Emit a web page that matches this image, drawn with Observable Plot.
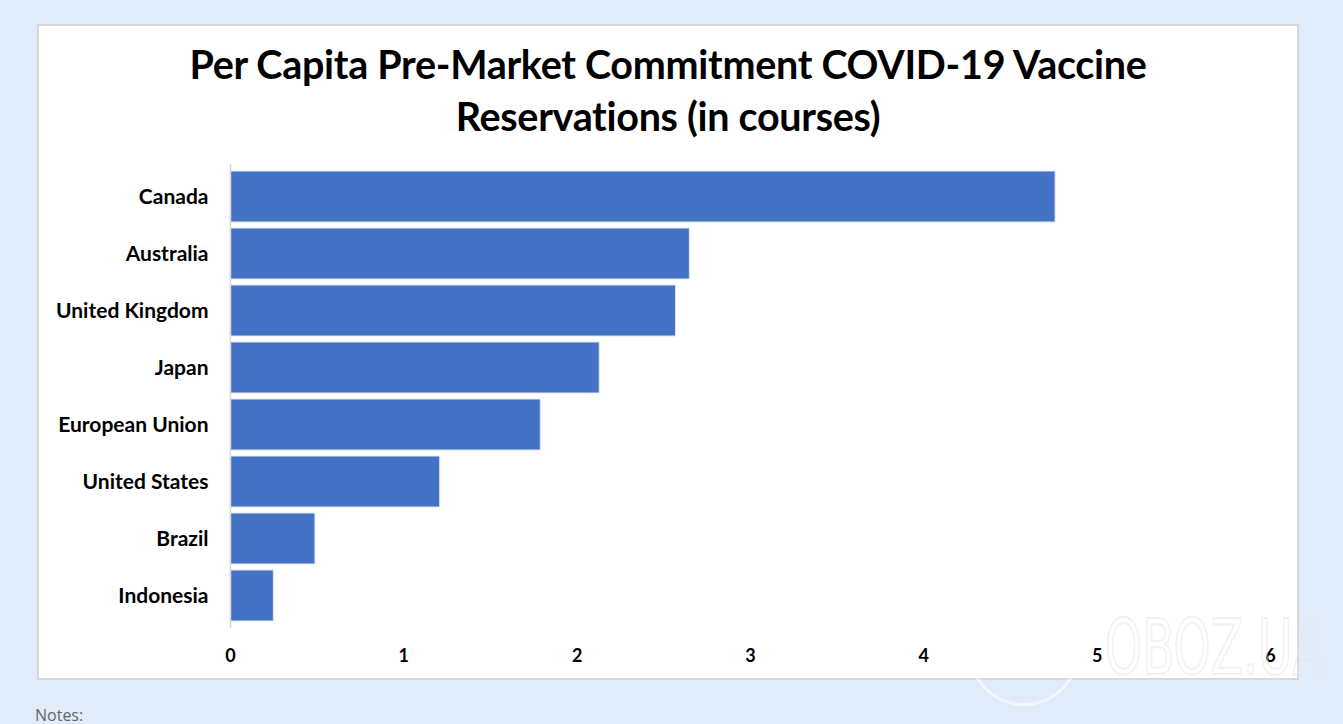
<!DOCTYPE html>
<html>
<head>
<meta charset="utf-8">
<script src="https://cdn.jsdelivr.net/npm/d3@7"></script>
<script src="https://cdn.jsdelivr.net/npm/@observablehq/plot@0.6"></script>
<style>
  html, body { margin: 0; padding: 0; }
  body { width: 1343px; height: 724px; background: #e1ecfa; position: relative; overflow: hidden; font-family: Lato, "Open Sans", sans-serif; }
  #panel { position: absolute; left: 37px; top: 24px; width: 1258px; height: 652px; background: #fff; border: 2px solid #d8d8d8; }
  #title { height: 116px; text-align: center; font-weight: 700; font-size: 39.5px; line-height: 52px; color: #000; padding-top: 12px; box-sizing: border-box; letter-spacing: -0.3px; }
  #chart svg { display: block; }
  #notes { position: absolute; left: 35px; top: 704px; font-family: "Open Sans", sans-serif; font-size: 16px; color: #666; }
  #wm { position: absolute; left: 968px; top: 594px; pointer-events: none; }
  #wm .circ { position: absolute; left: 0; top: 0; width: 112px; height: 112px; border-radius: 50%; border: 3px solid rgba(255,255,255,0.6); box-sizing: border-box; }
  #wm .txt { position: absolute; left: 137px; top: 16px; font-family: "DejaVu Sans Condensed", "Roboto", sans-serif; font-size: 76px; -webkit-text-stroke: 2px rgba(230,230,230,0.55); color: transparent; transform: scaleX(0.69); transform-origin: left top; white-space: nowrap; line-height: 1; }
</style>
</head>
<body>
<div id="panel">
  <div id="title">Per Capita Pre-Market Commitment COVID-19 Vaccine<br>Reservations (in courses)</div>
  <div id="chart"></div>
</div>
<div id="notes">Notes:</div>
<div id="wm"><div class="circ"></div><div class="txt">OBOZ.UA</div></div>
<script>
const countries = ["Canada", "Australia", "United Kingdom", "Japan", "European Union", "United States", "Brazil", "Indonesia"];
const courses = [4.76, 2.65, 2.57, 2.13, 1.79, 1.21, 0.49, 0.25];
const xTicks = [0, 1, 2, 3, 4, 5, 6];

const data = countries.map((c, i) => ({country: c, value: courses[i]}));

const chart = Plot.plot({
  width: 1258,
  height: 536,
  marginLeft: 191,
  marginRight: 27,
  marginTop: 22,
  marginBottom: 50,
  style: {fontFamily: "Lato, 'Open Sans', sans-serif", background: "transparent", color: "#000"},
  x: {domain: [0, 6], ticks: xTicks, tickFormat: "d", tickSize: 0, tickPadding: 20, label: null},
  y: {domain: countries, tickSize: 0, tickPadding: 22, label: null, padding: 0.1},
  marks: [
    Plot.barX(data, {x: "value", y: "country", fill: "#4472c4", stroke: "#dfe6f3", strokeWidth: 1}),
    Plot.ruleX([0], {stroke: "#d9d9d9", strokeWidth: 1.5}),
    Plot.axisX({ticks: xTicks, tickFormat: "d", tickSize: 0, tickPadding: 21, fontSize: 18, fontWeight: "bold", label: null}),
    Plot.axisY({tickSize: 0, tickPadding: 22, fontSize: 21, fontWeight: "bold", label: null})
  ]
});
document.getElementById("chart").appendChild(chart);
</script>
</body>
</html>
